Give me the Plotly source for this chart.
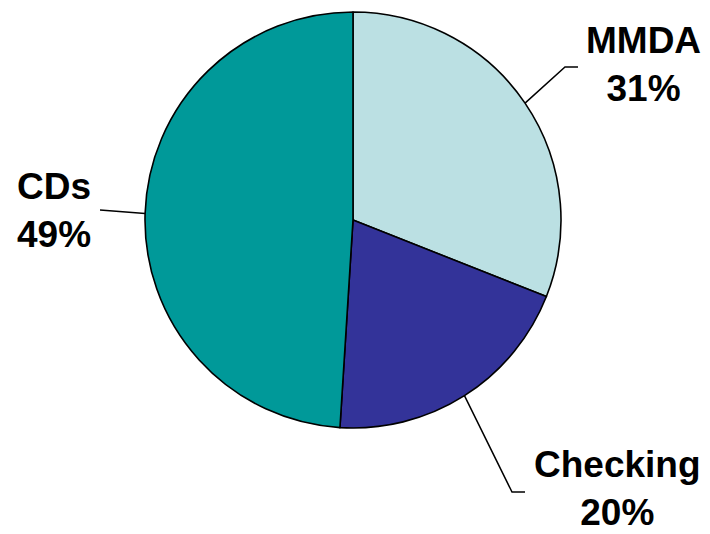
import math
import plotly.graph_objects as go

labels = ["MMDA", "Checking", "CDs"]
values = [31, 20, 49]
colors = ["#BBE0E3", "#333399", "#009999"]

W, H = 710, 534
CX, CY, R = 353, 220, 208

# label centres (px) and leader elbow points (px)
label_pos = {"MMDA": (643, 65), "Checking": (617, 488), "CDs": (54, 211)}
elbows = {"MMDA": [(565, 67), (578, 67)],
          "Checking": [(512, 492), (525, 492)],
          "CDs": [(100, 210)]}

fig = go.Figure(go.Pie(
    labels=labels, values=values, sort=False, direction="clockwise", rotation=0,
    marker=dict(colors=colors, line=dict(color="black", width=1.6)),
    textinfo="none", hoverinfo="label+percent", showlegend=False,
    domain=dict(x=[(CX - R) / W, (CX + R) / W], y=[1 - (CY + R) / H, 1 - (CY - R) / H]),
))

def px2paper(x, y):
    return x / W, 1 - y / H

total = sum(values)
cum = 0
for lab, v in zip(labels, values):
    mid = (cum + v / 2) / total * 2 * math.pi
    cum += v
    ex = CX + R * math.sin(mid)
    ey = CY - R * math.cos(mid)
    pts = [(ex, ey)] + elbows[lab]
    ppts = [px2paper(*p) for p in pts]
    path = "M " + " L ".join(f"{a:.5f},{b:.5f}" for a, b in ppts)
    fig.add_shape(type="path", path=path, xref="paper", yref="paper",
                  line=dict(color="black", width=1.5))
    lx, ly = px2paper(*label_pos[lab])
    pct = round(v / total * 100)
    fig.add_annotation(x=lx, y=ly, xref="paper", yref="paper", showarrow=False,
                       text=f"<b>{lab}<br>{pct}%</b>", align="center",
                       xanchor="center", yanchor="middle", borderpad=0,
                       font=dict(family="Liberation Sans, Arial, sans-serif", size=37, color="black"))

fig.update_layout(width=W, height=H, margin=dict(l=0, r=0, t=0, b=0),
                  paper_bgcolor="white", plot_bgcolor="white")
fig.write_html("out.html")
